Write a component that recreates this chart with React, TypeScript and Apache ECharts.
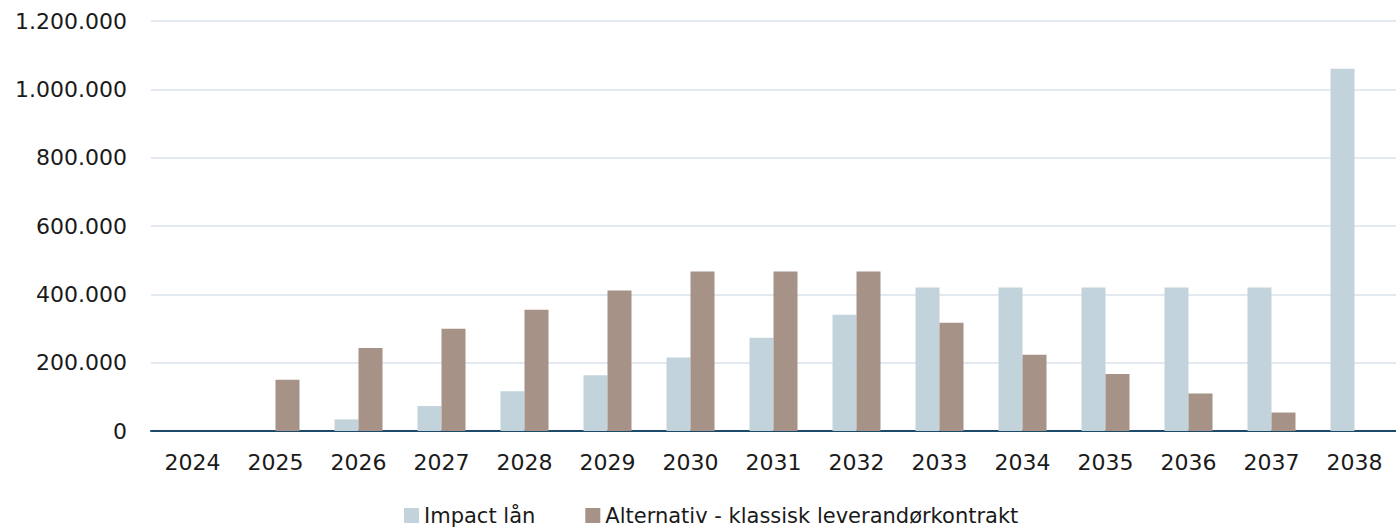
import React, { useEffect, useRef } from "react";
import * as echarts from "echarts";

const years = ["2024", "2025", "2026", "2027", "2028", "2029", "2030", "2031", "2032", "2033", "2034", "2035", "2036", "2037", "2038"];
const impactLaan = [0, 0, 34000, 73000, 116000, 163000, 215000, 273000, 340000, 420000, 420000, 420000, 420000, 420000, 1060000];
const alternativ = [0, 150000, 243000, 299000, 355000, 411000, 467000, 467000, 467000, 317000, 223000, 167000, 110000, 54000, 0];
const seriesNames = ["Impact lån", "Alternativ - klassisk leverandørkontrakt"];

const fmt = (v: number) => String(Math.round(v)).replace(/\B(?=(\d{3})+(?!\d))/g, ".");

export default function App() {
  const ref = useRef<HTMLDivElement>(null);
  useEffect(() => {
    if (!ref.current) return;
    const chart = echarts.init(ref.current, null, { renderer: "svg" });
    const axisFont = "'DejaVu Sans', Verdana, sans-serif";
    chart.setOption({
      animation: false,
      backgroundColor: "#ffffff",
      textStyle: { fontFamily: axisFont },
      grid: { left: 151, right: 0, top: 21, bottom: 100 },
      legend: {
        bottom: 0,
        left: 399,
        itemWidth: 15,
        itemHeight: 15,
        itemGap: 50,
        icon: "rect",
        textStyle: { fontSize: 21, color: "#1a1a1a", fontFamily: axisFont },
        data: seriesNames,
      },
      xAxis: {
        type: "category",
        data: years,
        axisTick: { show: false },
        axisLine: { lineStyle: { color: "#1C4A68", width: 2 } },
        axisLabel: { fontSize: 22, color: "#1a1a1a", margin: 20, fontFamily: axisFont },
      },
      yAxis: {
        type: "value",
        min: 0,
        max: 1200000,
        interval: 200000,
        axisLine: { show: false },
        axisTick: { show: false },
        splitLine: { lineStyle: { color: "#E2E9F0", width: 2 } },
        axisLabel: { fontSize: 22, color: "#1a1a1a", margin: 24, fontFamily: axisFont, formatter: fmt },
      },
      series: [
        {
          name: seriesNames[0],
          type: "bar",
          data: impactLaan,
          barWidth: 24,
          barGap: "0%",
          itemStyle: { color: "#C3D3DC" },
        },
        {
          name: seriesNames[1],
          type: "bar",
          data: alternativ,
          barWidth: 24,
          barGap: "0%",
          itemStyle: { color: "#A69287" },
        },
      ],
    });
    return () => chart.dispose();
  }, []);
  return (
    <div
      ref={ref}
      style={{ position: "fixed", left: 0, top: 0, width: 1396, height: 531, background: "#fff" }}
    />
  );
}
